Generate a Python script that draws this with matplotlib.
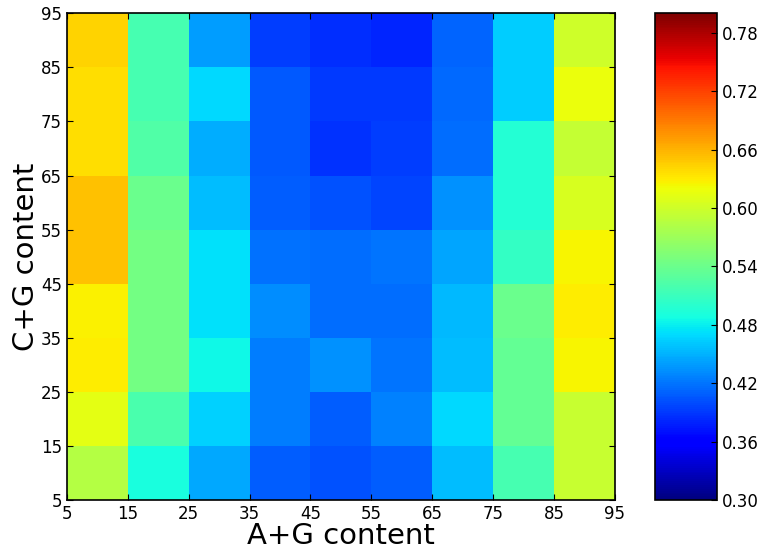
import numpy as np
import matplotlib
matplotlib.use("Agg")
import matplotlib.pyplot as plt

# bin edges (percent)
AG_EDGES = [5, 15, 25, 35, 45, 55, 65, 75, 85, 95]
CG_EDGES = [5, 15, 25, 35, 45, 55, 65, 75, 85, 95]

# one row per C+G bin, bottom (5-15) to top (85-95); columns are A+G bins
ROW_05_15 = [0.584, 0.490, 0.446, 0.409, 0.402, 0.409, 0.456, 0.517, 0.595]
ROW_15_25 = [0.614, 0.520, 0.465, 0.424, 0.409, 0.426, 0.468, 0.536, 0.595]
ROW_25_35 = [0.630, 0.545, 0.484, 0.424, 0.434, 0.421, 0.456, 0.536, 0.625]
ROW_35_45 = [0.628, 0.545, 0.473, 0.431, 0.416, 0.416, 0.453, 0.539, 0.630]
ROW_45_55 = [0.652, 0.545, 0.473, 0.419, 0.416, 0.421, 0.443, 0.506, 0.625]
ROW_55_65 = [0.652, 0.539, 0.456, 0.409, 0.402, 0.397, 0.434, 0.497, 0.605]
ROW_65_75 = [0.636, 0.523, 0.448, 0.407, 0.387, 0.392, 0.416, 0.497, 0.593]
ROW_75_85 = [0.636, 0.517, 0.468, 0.407, 0.390, 0.390, 0.414, 0.463, 0.617]
ROW_85_95 = [0.643, 0.517, 0.439, 0.392, 0.385, 0.381, 0.412, 0.463, 0.599]

CBAR_TICKS = [0.30, 0.36, 0.42, 0.48, 0.54, 0.60, 0.66, 0.72, 0.78]

grid = np.array([ROW_05_15, ROW_15_25, ROW_25_35, ROW_35_45, ROW_45_55,
                 ROW_55_65, ROW_65_75, ROW_75_85, ROW_85_95])

fig = plt.figure(figsize=(7.61, 5.52), dpi=100)
ax = fig.add_axes([0.088, 0.094, 0.72, 0.882])
cax = fig.add_axes([0.861, 0.094, 0.081, 0.882])

mesh = ax.pcolormesh(AG_EDGES, CG_EDGES, grid, cmap="jet", vmin=0.3, vmax=0.8)
ax.set_xlim(5, 95)
ax.set_ylim(5, 95)
ax.set_xticks(AG_EDGES)
ax.set_yticks(CG_EDGES)
ax.tick_params(direction="in", top=True, right=True, labelsize=12, length=4)
ax.set_xlabel("A+G content", fontsize=21, labelpad=-1)
ax.set_ylabel("C+G content", fontsize=21, labelpad=1)
for s in ax.spines.values():
    s.set_linewidth(1.2)

cb = fig.colorbar(mesh, cax=cax, ticks=CBAR_TICKS)
cb.ax.tick_params(direction="in", labelsize=12, length=4)
cb.ax.set_yticklabels(["%.2f" % t for t in CBAR_TICKS])
cb.outline.set_linewidth(1.2)

fig.savefig("out.png", dpi=100)
